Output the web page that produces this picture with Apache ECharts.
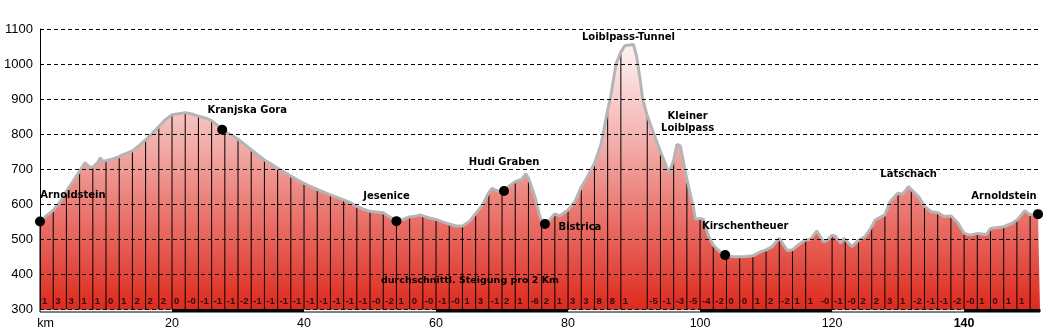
<!DOCTYPE html>
<html>
<head>
<meta charset="utf-8">
<script src="https://cdn.jsdelivr.net/npm/echarts@6/dist/echarts.min.js"></script>
<style>
  html, body { margin: 0; padding: 0; background: #fff; }
  #chart { width: 1044px; height: 332px; }
</style>
</head>
<body>
<div id="chart"></div>
<script>
// Höhenprofil der Runde Arnoldstein – Kranjska Gora – Loiblpass – Arnoldstein
// Streckenkilometer
const km = [
  0, 1, 2, 3, 4, 5, 6, 6.8, 7.5, 8, 8.8, 9.1, 9.6, 10, 11, 12, 12.5, 13, 14, 15,
  16, 17, 18, 19, 20, 21, 22, 23, 24, 25, 26, 27, 28, 29, 30, 31, 32, 33, 34, 35,
  36, 37, 38, 39, 40, 41, 42, 43, 44, 45, 46, 47, 48, 49, 50, 51, 52, 53, 54, 55,
  56, 57, 57.6, 58, 59, 60, 61, 62, 63, 64, 65, 66, 67, 68, 68.5, 69, 70, 71, 72, 73,
  73.6, 74, 75, 75.6, 76, 77, 78, 78.7, 80, 81, 82, 83, 84, 85, 86, 86.4, 87, 87.3, 88, 88.6,
  89.9, 90.4, 91, 91.3, 92, 93, 94, 95.3, 96, 96.5, 97, 98, 99, 99.3, 100, 100.5, 101.3, 102, 103, 104,
  105, 106, 107, 108, 109.2, 110, 110.9, 112, 113.2, 114, 115, 116, 116.7, 117.7, 118.7, 119.2, 120, 120.5, 121.3, 121.8,
  122, 123, 124, 125, 126, 126.5, 128, 128.8, 130, 130.7, 131.6, 132, 133.1, 134, 135, 136, 137, 138, 139, 140,
  141, 142, 143.4, 144, 145, 146, 147.3, 148, 149.2, 150, 151.2, 151.5
];
// Höhe über dem Meer (m) zu jedem Streckenkilometer
const hoehe = [
  550, 567, 582, 605, 636, 665, 694, 718, 706, 705, 720, 732, 721, 724, 729, 735, 741, 744, 752, 767,
  783, 801, 821, 841, 855, 858, 861, 857, 851, 846, 838, 823, 807, 797, 785, 770, 755, 740, 726, 714,
  702, 691, 680, 669, 659, 650, 642, 634, 626, 619, 612, 604, 593, 585, 579, 577, 575, 563, 551, 556,
  563, 566, 569, 566, 560, 556, 549, 543, 537, 537, 549, 572, 596, 633, 645, 640, 633, 650, 664, 671,
  686, 674, 620, 573, 552, 550, 572, 566, 583, 606, 648, 680, 716, 771, 869, 900, 970, 1002, 1034, 1052,
  1056, 1021, 945, 900, 852, 800, 750, 688, 726, 770, 766, 671, 590, 556, 559, 556, 507, 483, 464, 452,
  449, 449, 450, 452, 464, 469, 478, 502, 467, 469, 485, 497, 499, 523, 492, 495, 511, 508, 488, 502,
  500, 478, 496, 507, 535, 554, 569, 607, 631, 628, 650, 641, 621, 594, 578, 575, 564, 566, 547, 516,
  511, 516, 513, 530, 533, 535, 545, 554, 581, 569, 571, 571
];
// durchschnittliche Steigung (%) je 2-km-Abschnitt ab km 0 ('' = nicht angegeben)
const steigung = [
  '1', '3', '3', '1', '1', '0', '1', '2', '2', '2',
  '0', '-0', '-1', '-1', '-1', '-2', '-1', '-1', '-1', '-1',
  '-1', '-1', '-1', '-1', '-1', '-0', '-2', '1', '0', '-0',
  '-1', '-0', '1', '3', '-1', '2', '1', '-6', '2', '1',
  '3', '3', '8', '8', '1', '', '-5', '-1', '-3', '-5',
  '-4', '-2', '0', '0', '1', '2', '-2', '1', '1', '-0',
  '-1', '-0', '2', '2', '3', '1', '-2', '-1', '-1', '-2',
  '-0', '1', '0', '1', '1', ''
];
// Orte entlang der Strecke
const orte = ['Arnoldstein', 'Kranjska Gora', 'Jesenice', 'Hudi Graben', 'Bistrica',
  'Loiblpass-Tunnel', 'Kleiner\nLoiblpass', 'Kirschentheuer', 'Latschach', 'Arnoldstein'];
const orteKm = [0, 27.6, 54, 70.3, 76.5, 89.3, 96.6, 103.8, 131.6, 151.2];
const orteHoehe = [550, 812, 551, 637, 543, 1056, 770, 454, 650, 571];
const mitPunkt = [true, true, true, true, true, false, false, true, false, true];
// Achsen
const hoeheMin = 300, hoeheMax = 1100, hoeheSchritt = 100;
const kmMax = 151.5, kmSchritt = 20;

// Lage der Ortsnamen relativ zum Punkt (Pixel)
const namensVersatz = [[33, -26], [25, -19], [-10, -25], [0, -29], [35, 3],
  [-1, -7], [10, -22], [20, -29], [0, -12], [-34, -18]];

const profil = km.map((k, i) => [k, hoehe[i]]);
// senkrechte Striche alle 2 km
const striche = profil.filter(p => Number.isInteger(p[0]) && p[0] % 2 === 0);
const steigungsPunkte = steigung.map((s, i) => [i * 2, hoeheMin, s]);
// abwechselnd weiße und schwarze 20-km-Felder im Maßstabsbalken
const balken = [];
for (let a = kmSchritt; a < kmMax; a += 2 * kmSchritt) {
  balken.push([{ xAxis: a }, { xAxis: Math.min(a + kmSchritt, kmMax) }]);
}

const ortsDaten = orte.map((n, i) => ({
  name: n,
  value: [orteKm[i], orteHoehe[i]],
  symbolSize: mitPunkt[i] ? 10 : 0,
  label: { offset: namensVersatz[i] }
}));

const chart = echarts.init(document.getElementById('chart'), null, { renderer: 'canvas' });
chart.setOption({
  animation: false,
  backgroundColor: '#fff',
  grid: [
    { left: 40, right: 4, top: 29, bottom: 23 },
    { left: 40, right: 4, top: 309, height: 3, show: true, backgroundColor: '#fff',
      borderColor: '#000', borderWidth: 1 }
  ],
  xAxis: [
    {
      type: 'value', gridIndex: 0, min: 0, max: kmMax, interval: kmSchritt,
      axisLine: { show: false }, axisTick: { show: false }, splitLine: { show: false },
      axisLabel: {
        margin: 8, showMaxLabel: false, color: '#000',
        fontFamily: 'Liberation Sans', fontSize: 12.5,
        formatter: v => v === 0 ? '{km|km}' : (v === 140 ? '{b|140}' : String(v)),
        rich: {
          km: { fontFamily: 'Liberation Sans', fontSize: 12.5, color: '#000', padding: [0, 0, 0, 11] },
          b: { fontFamily: 'Liberation Sans', fontSize: 12.5, fontWeight: 'bold', color: '#000' }
        }
      }
    },
    { type: 'value', gridIndex: 1, min: 0, max: kmMax, show: false }
  ],
  yAxis: [
    {
      type: 'value', gridIndex: 0, min: hoeheMin, max: hoeheMax, interval: hoeheSchritt, z: 5,
      axisLine: { show: true, lineStyle: { color: '#000', width: 1 } },
      axisTick: { show: false },
      splitLine: { show: true, lineStyle: { color: '#000', width: 1, type: [4, 3] } },
      axisLabel: { margin: 7, color: '#000', fontFamily: 'Liberation Sans', fontSize: 13,
        formatter: v => String(v) }
    },
    { type: 'value', gridIndex: 1, min: 0, max: 1, show: false }
  ],
  graphic: [{
    type: 'text', left: 381, top: 276, z: 20,
    style: { text: 'durchschnittl. Steigung pro 2 Km', fill: '#000',
      font: 'bold 9.5px "DejaVu Sans"' }
  }],
  series: [
    {
      type: 'line', data: profil, z: 1, symbol: 'none', silent: true,
      lineStyle: { width: 0 },
      areaStyle: {
        opacity: 1,
        color: new echarts.graphic.LinearGradient(0, 0, 0, 1, [
          { offset: 0, color: '#fdf3f3' },
          { offset: 0.35, color: '#f3b3b0' },
          { offset: 1, color: '#de2a1d' }
        ])
      }
    },
    {
      type: 'bar', data: striche, z: 2, barWidth: 1, silent: true,
      itemStyle: { color: '#000' }
    },
    {
      type: 'line', data: profil, z: 3, symbol: 'none', silent: true,
      lineStyle: { color: '#b5b5b5', width: 3 }
    },
    {
      type: 'scatter', data: steigungsPunkte, z: 8, symbolSize: 0, silent: true,
      label: {
        show: true, position: 'right', distance: 2, offset: [0, -8],
        formatter: p => p.value[2],
        color: '#000', fontFamily: 'Liberation Sans', fontWeight: 'bold', fontSize: 9.5
      }
    },
    {
      type: 'scatter', data: ortsDaten, z: 10, silent: true,
      itemStyle: { color: '#000', opacity: 1 },
      label: {
        show: true, position: 'inside', formatter: p => p.name,
        color: '#000', fontFamily: 'DejaVu Sans', fontWeight: 'bold', fontSize: 10,
        lineHeight: 12, align: 'center'
      }
    },
    {
      type: 'line', xAxisIndex: 1, yAxisIndex: 1, data: [[0, 0]], symbol: 'none',
      lineStyle: { width: 0 }, silent: true,
      markArea: { silent: true, itemStyle: { color: '#000' }, data: balken }
    }
  ]
});
</script>
</body>
</html>
